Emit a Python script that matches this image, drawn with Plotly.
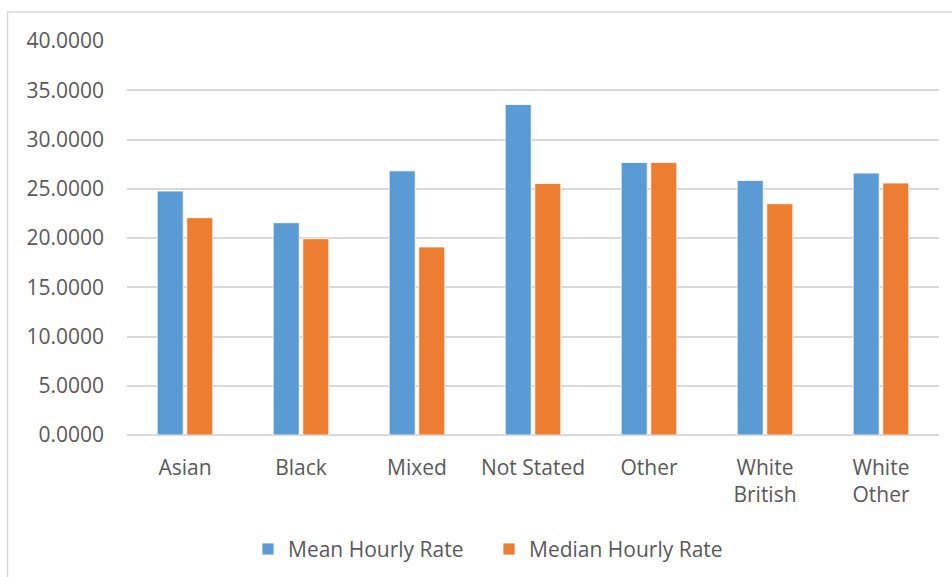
import plotly.graph_objects as go

# Hourly pay by ethnic group
categories = ["Asian", "Black", "Mixed", "Not Stated", "Other", "White<br>British", "White<br>Other"]
mean_rate = [24.77, 21.55, 26.82, 33.55, 27.67, 25.84, 26.59]
median_rate = [22.06, 19.93, 19.09, 25.54, 27.67, 23.48, 25.58]
y_ticks = [0, 5, 10, 15, 20, 25, 30, 35, 40]

FONT = "Open Sans"
TEXT = "#595959"
GRID = "#D9D9D9"
FS = 21

fig = go.Figure()
fig.add_trace(go.Bar(
    x=categories, y=mean_rate, name="Mean Hourly Rate",
    marker=dict(color="#5B9BD5", line=dict(color="#FFFFFF", width=0.8)),
))
fig.add_trace(go.Bar(
    x=categories, y=median_rate, name="Median Hourly Rate",
    marker=dict(color="#ED7D31", line=dict(color="#FFFFFF", width=0.8)),
))

W, H = 952, 577
L, R, T, B = 127, 13, 41, 141.5
pw, ph = W - L - R, H - T - B

# light frame around the chart area
fig.add_shape(
    type="rect", xref="paper", yref="paper",
    x0=(7.5 - L) / pw, x1=(W + 20 - L) / pw,
    y0=-(H + 20 - (H - B)) / ph, y1=((H - B) - 12) / ph,
    line=dict(color=GRID, width=1.5), fillcolor="rgba(0,0,0,0)", layer="below",
)

fig.update_layout(
    width=W, height=H,
    margin=dict(l=L, r=R, t=T, b=B, pad=0, autoexpand=False),
    paper_bgcolor="white", plot_bgcolor="white",
    barmode="group", bargap=0.49, bargroupgap=0.12,
    font=dict(family=FONT, size=FS, color=TEXT),
    showlegend=True,
    legend=dict(
        orientation="h", x=(248 - L) / pw, xanchor="left",
        y=-(550 - (H - B)) / ph, yanchor="middle",
        font=dict(family=FONT, size=FS, color=TEXT),
        itemwidth=30, traceorder="normal",
        entrywidth=196, entrywidthmode="pixels",
    ),
    xaxis=dict(
        showgrid=False, showline=False, zeroline=False, ticks="",
        ticklabelstandoff=18, tickfont=dict(family=FONT, size=FS, color=TEXT),
    ),
    yaxis=dict(
        range=[0, 40], tickvals=y_ticks, tickformat=".4f",
        showgrid=True, gridcolor=GRID, gridwidth=1.5,
        zeroline=True, zerolinecolor=GRID, zerolinewidth=1.5,
        showline=False, ticks="", ticklabelstandoff=22,
        tickfont=dict(family=FONT, size=FS, color=TEXT),
    ),
)

fig.write_html("out.html")
